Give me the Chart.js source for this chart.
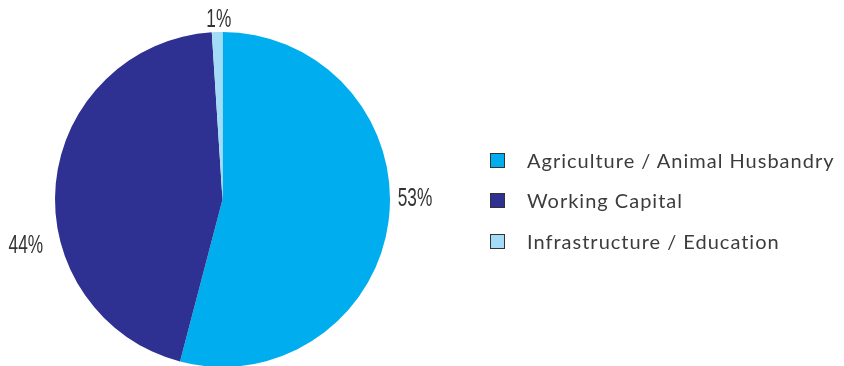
<!DOCTYPE html>
<html>
<head>
<meta charset="utf-8">
<script src="https://cdn.jsdelivr.net/npm/chart.js@4.4.1/dist/chart.umd.min.js"></script>
<style>
  html, body { margin: 0; padding: 0; background: #ffffff; overflow: hidden; }
  #wrap { position: relative; width: 844px; height: 366px; }
  #pie { position: absolute; left: 0; top: 0; }
  #legend { position: absolute; left: 490px; top: 0; font-family: Lato, "Open Sans", sans-serif; font-size: 20px; letter-spacing: 1px; color: #3c3c3c; }
  .item { position: absolute; left: 0; white-space: nowrap; height: 20px; }
  .box { position: absolute; left: 0; width: 13px; height: 13px; border: 1px solid #333; }
  .txt { position: absolute; left: 37px; top: -5px; line-height: 24px; }
</style>
</head>
<body>
<div id="wrap">
  <canvas id="pie" width="844" height="366"></canvas>
  <div id="legend"></div>
</div>
<script>
// Loan purpose breakdown
const categories = ['Agriculture / Animal Husbandry', 'Working Capital', 'Infrastructure / Education'];
const shares = [53, 44, 1];
const shareLabels = ['53%', '44%', '1%'];
const sliceColors = ['#00aeef', '#2e3192', '#a3dcf7'];

// where each percentage label sits: [degrees clockwise from top, distance as multiple of radius]
const labelPlacement = [[90, 1.149], [256.6, 1.207], [358.8, 1.069]];

const percentLabels = {
  id: 'percentLabels',
  afterDatasetsDraw(chart) {
    const ctx = chart.ctx;
    const arcs = chart.getDatasetMeta(0).data;
    ctx.save();
    ctx.fillStyle = '#333333';
    ctx.textAlign = 'center';
    ctx.textBaseline = 'middle';
    ctx.font = '25px "Liberation Sans Narrow", "Liberation Sans", sans-serif';
    arcs.forEach((arc, i) => {
      const [deg, f] = labelPlacement[i];
      const a = deg * Math.PI / 180;
      const x = arc.x + Math.sin(a) * arc.outerRadius * f;
      const y = arc.y - Math.cos(a) * arc.outerRadius * f;
      ctx.save();
      ctx.translate(x, y);
      ctx.scale(0.69, 1);
      ctx.fillText(shareLabels[i], 0, 0);
      ctx.restore();
    });
    ctx.restore();
  }
};

const chart = new Chart(document.getElementById('pie'), {
  type: 'pie',
  data: {
    labels: categories,
    datasets: [{
      data: shares,
      backgroundColor: sliceColors,
      borderWidth: 0,
      radius: 167.5
    }]
  },
  options: {
    responsive: false,
    animation: false,
    layout: { padding: { left: 55, right: 454, top: 33, bottom: 0 } },
    plugins: {
      legend: { display: false },
      tooltip: { enabled: false }
    }
  },
  plugins: [percentLabels]
});

// legend built from the chart's own labels and colours
const legendTops = [153, 193, 234];
const legendEl = document.getElementById('legend');
chart.data.labels.forEach((lab, i) => {
  const item = document.createElement('div');
  item.className = 'item';
  item.style.top = legendTops[i] + 'px';
  const box = document.createElement('span');
  box.className = 'box';
  box.style.background = chart.data.datasets[0].backgroundColor[i];
  const txt = document.createElement('span');
  txt.className = 'txt';
  txt.textContent = lab;
  item.appendChild(box);
  item.appendChild(txt);
  legendEl.appendChild(item);
});
</script>
</body>
</html>
